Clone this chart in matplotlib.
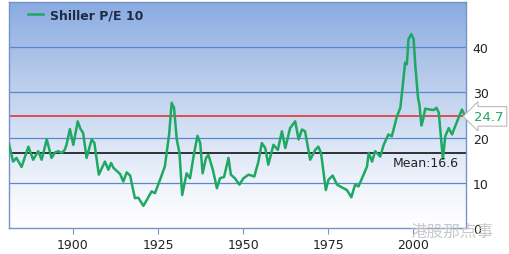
import numpy as np
import matplotlib
matplotlib.use('Agg')
import matplotlib.pyplot as plt

# Shiller P/E 10
years = [1881.2, 1882.4, 1883.4, 1884.9, 1886.9, 1888.3, 1889.8, 1890.8, 1892.3, 1893.7,
         1894.7, 1895.7, 1896.7, 1897.6, 1898.1, 1899.1, 1900.1, 1901.4, 1902.1, 1903.0,
         1904.0, 1905.5, 1906.3, 1907.6, 1909.4, 1910.4, 1911.2, 1911.9, 1913.8, 1914.8,
         1915.8, 1916.8, 1918.2, 1919.2, 1920.7, 1921.7, 1923.1, 1924.1, 1925.6, 1927.0,
         1928.3, 1929.0, 1929.7, 1930.5, 1931.3, 1932.1, 1933.4, 1934.4, 1935.6, 1936.6,
         1937.4, 1938.1, 1939.1, 1939.8, 1941.1, 1942.3, 1943.2, 1944.4, 1945.7, 1946.4,
         1947.6, 1948.9, 1950.1, 1951.6, 1953.3, 1954.5, 1955.5, 1956.5, 1957.4, 1958.9,
         1960.2, 1961.4, 1962.4, 1963.8, 1965.3, 1966.3, 1967.3, 1968.2, 1969.7, 1971.2,
         1972.1, 1972.9, 1974.3, 1975.1, 1976.3, 1977.6, 1979.0, 1980.5, 1981.8, 1982.9,
         1983.9, 1985.4, 1986.4, 1986.9, 1987.9, 1988.8, 1990.3, 1991.3, 1992.7, 1993.7,
         1995.2, 1996.2, 1997.1, 1997.6, 1998.1, 1998.6, 1999.4, 2000.1, 2000.6, 2001.4,
         2001.8, 2002.4, 2002.9, 2003.5, 2005.0, 2006.0, 2006.8, 2007.5, 2008.7, 2009.4,
         2010.4, 2011.4, 2012.3, 2014.3, 2015.3]
pe10 = [18.6, 14.7, 15.5, 13.5, 18.0, 15.1, 17.0, 15.1, 19.6, 15.5,
        16.7, 17.0, 16.6, 17.3, 18.4, 21.9, 18.4, 23.6, 22.1, 21.0,
        15.5, 19.6, 18.8, 11.8, 14.7, 12.9, 14.4, 13.3, 12.0, 10.3,
        12.3, 11.6, 6.6, 6.7, 4.9, 6.2, 8.1, 7.7, 10.7, 13.6,
        21.0, 27.7, 26.6, 19.6, 16.6, 7.3, 12.1, 11.0, 16.6, 20.4,
        18.8, 12.1, 15.5, 16.2, 12.9, 8.8, 11.0, 11.3, 15.5, 11.8,
        11.0, 9.6, 11.0, 11.8, 11.4, 14.7, 18.8, 17.7, 14.0, 18.4,
        17.3, 21.4, 17.7, 22.1, 23.6, 19.6, 21.8, 21.4, 15.1, 17.3,
        18.0, 16.6, 8.4, 10.7, 11.6, 9.6, 9.0, 8.4, 6.8, 9.6,
        9.2, 11.8, 13.6, 16.6, 14.7, 17.0, 15.8, 18.4, 20.7, 20.3,
        24.7, 26.6, 32.9, 36.6, 36.2, 41.8, 42.9, 41.8, 35.9, 28.8,
        27.3, 22.7, 24.0, 26.4, 26.2, 26.1, 26.6, 25.5, 15.3, 20.3,
        22.1, 20.7, 22.5, 26.2, 24.7]

current = 24.7
mean = 16.6
xticks = [1900, 1925, 1950, 1975, 2000]
yticks = [0, 10, 20, 30, 40]

green = "#1ea862"
blue_grid = "#5a88cf"
frame = "#7593c4"

fig = plt.figure(figsize=(5.1, 2.55), dpi=100)
ax = fig.add_axes([0.0176, 0.102, 0.8955, 0.886])

# vertical gradient background, blue at top to white at bottom
top = np.array([0.54, 0.67, 0.88])
bot = np.array([1.0, 1.0, 1.0])
t = np.linspace(0, 1, 256)[:, None]
grad = top * (1 - t) ** 1.2 + bot * (1 - (1 - t) ** 1.2)
grad = np.repeat(grad[:, None, :], 2, axis=1)
ax.imshow(grad, extent=[0, 1, 0, 1], transform=ax.transAxes, aspect='auto', zorder=0)

for y in yticks[1:]:
    ax.axhline(y, color=blue_grid, linewidth=0.9, zorder=1)
ax.axhline(current, color="#e02828", linewidth=1.1, zorder=2)
ax.axhline(mean, color="black", linewidth=1.1, zorder=2)

ax.plot(years, pe10, color=green, linewidth=1.8, solid_joinstyle='round',
        label="Shiller P/E 10", zorder=3)

ax.set_xlim(1881.2, 2015.4)
ax.set_ylim(0, 50)
ax.set_xticks(xticks)
ax.set_yticks(yticks)
ax.yaxis.tick_right()
ax.tick_params(axis='x', direction='out', length=4, color=frame, labelsize=9,
               labelcolor="#222222", pad=3)
ax.tick_params(axis='y', length=0, labelsize=9, labelcolor="#222222", pad=5)
for s in ax.spines.values():
    s.set_color(frame)
    s.set_linewidth(1.0)

ax.text(2013.5, mean - 0.6, "Mean:16.6", ha='right', va='top', fontsize=9,
        color="#222222", zorder=4)

ax.annotate("24.7", xy=(1, current), xycoords=('axes fraction', 'data'),
            xytext=(6, 0), textcoords='offset points', ha='left', va='center',
            fontsize=9.5, color=green,
            bbox=dict(boxstyle='larrow,pad=0.25', fc='white', ec='#bbbbbb', lw=0.8),
            annotation_clip=False, zorder=5)

leg = ax.legend(loc='upper left', bbox_to_anchor=(0.027, 1.0), frameon=False,
                handlelength=1.2, handletextpad=0.6, borderaxespad=0.1,
                prop={'size': 9, 'weight': 'bold'})
for txt in leg.get_texts():
    txt.set_color("#1f2a44")

# watermark
fig.text(0.805, 0.088, "港股那点事", fontsize=12, color="#c4c4c4", alpha=0.9,
         family=['Noto Sans CJK SC', 'DejaVu Sans'], va='center', ha='left', zorder=10)

fig.savefig("out.png", dpi=100)
